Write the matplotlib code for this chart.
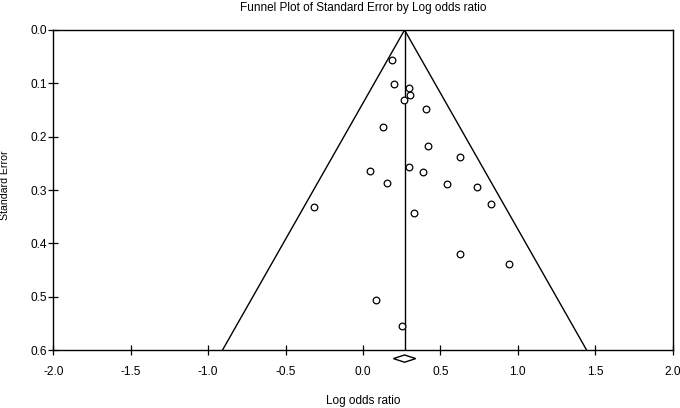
import matplotlib
matplotlib.use("Agg")
from matplotlib import pyplot as plt

plt.rcParams['font.family'] = ['Liberation Sans', 'DejaVu Sans']

# study estimates
log_or = [0.189, 0.204, 0.297, 0.305, 0.266, 0.408, 0.129, 0.421, 0.626, 0.297, 0.047,
          0.389, 0.155, 0.546, 0.737, 0.828, -0.316, 0.333, 0.630, 0.941, 0.084, 0.254]
std_err = [0.057, 0.102, 0.108, 0.121, 0.132, 0.148, 0.181, 0.218, 0.239, 0.256, 0.264,
           0.266, 0.286, 0.289, 0.294, 0.326, 0.331, 0.344, 0.419, 0.439, 0.507, 0.554]
pooled = 0.269
pooled_ci = (0.197, 0.341)
se_max = 0.6
xticks = [-2.0, -1.5, -1.0, -0.5, 0.0, 0.5, 1.0, 1.5, 2.0]
yticks = [0.0, 0.1, 0.2, 0.3, 0.4, 0.5, 0.6]

fig = plt.figure(figsize=(6.8, 4.08), dpi=100)
ax = fig.add_axes([0.0784, 0.142, 0.9106, 0.7845])

# funnel limits and pooled line
ax.plot([pooled - 1.96 * se_max, pooled, pooled + 1.96 * se_max], [se_max, 0, se_max],
        color='black', lw=1.0)
ax.plot([pooled, pooled], [0, se_max], color='black', lw=1.0)

ax.plot(log_or, std_err, 'o', mfc='white', mec='black', ms=4.8, mew=0.9)

# diamond for the pooled estimate, drawn under the axis
yd, hd = 0.616, 0.0068
ax.fill([pooled_ci[0], pooled, pooled_ci[1], pooled],
        [yd, yd - hd, yd, yd + hd], facecolor='white', edgecolor='black', lw=1.0,
        clip_on=False)

ax.set_xlim(-2, 2)
ax.set_ylim(se_max, 0)
ax.set_xticks(xticks)
ax.set_yticks(yticks)
ax.set_xticklabels(['%.1f' % t for t in xticks])
ax.set_yticklabels(['%.1f' % t for t in yticks])
ax.tick_params(direction='inout', length=6.5, width=0.9, labelsize=8.6, pad=1.5, color='black')
ax.tick_params(axis='x', pad=8.5)
for s in ax.spines.values():
    s.set_linewidth(1.0)

ax.set_title('Funnel Plot of Standard Error by Log odds ratio', fontsize=8.5, pad=14)
ax.set_xlabel('Log odds ratio', fontsize=8.5, labelpad=12)
fig.text(5.5 / 680, 1 - 185 / 408, 'Standard Error', rotation=90, fontsize=7.6,
         ha='center', va='center')

plt.savefig('out.png', dpi=100)
